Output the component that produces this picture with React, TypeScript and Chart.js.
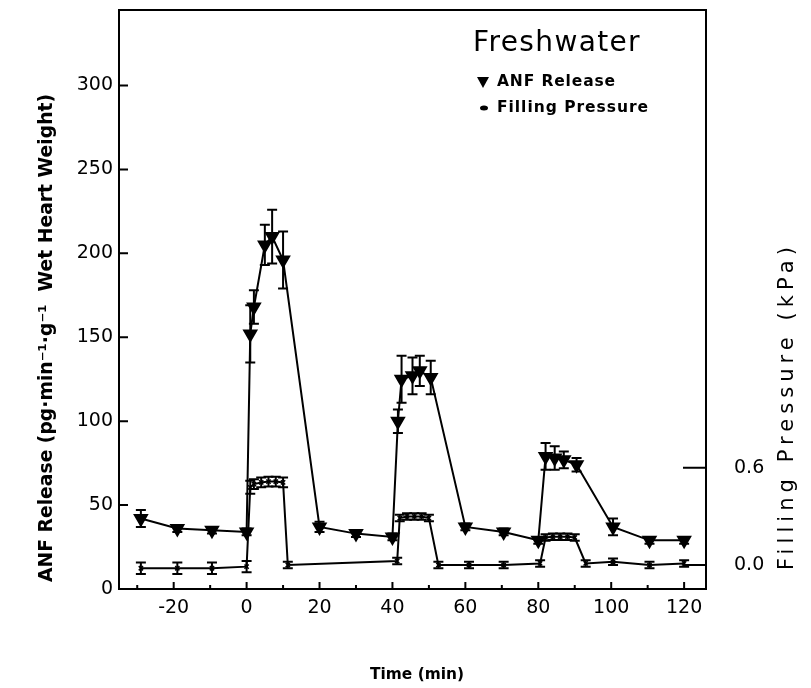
import { useEffect, useRef } from "react";
import { Chart, registerables } from "chart.js";

Chart.register(...registerables);

// ANF release (pg·min⁻¹·g⁻¹ wet heart weight)
const anfTime = [-29, -19, -9.5, 0, 1, 2, 5, 7, 10, 20, 30, 40, 41.5, 42.5, 45.5, 47.5, 50.5, 60, 70.5, 80, 82, 84.5, 87, 90.5, 100.5, 110.5, 120];
const anfValue = [42, 36, 35, 34, 152, 168, 205, 210, 196, 37, 33, 31, 100, 125, 127, 130, 126, 37, 34, 29, 79, 78, 77, 74, 37, 29, 29];
const anfError = [5, 2, 2, 2, 17, 10, 12, 16, 17, 3, 2, 2, 7, 14, 11, 9, 10, 2, 2, 2, 8, 7, 5, 4, 5, 2, 2];

// Filling pressure (kPa)
const fpTime = [-29, -19, -9.5, 0, 1, 2, 4, 6, 8, 10, 11.3, 41.3, 42, 44, 46, 48, 50, 52.6, 61, 70.5, 80.5, 82, 84, 86, 88, 90, 93, 100.5, 110.5, 120];
const fpValue = [-0.02, -0.02, -0.02, -0.01, 0.48, 0.5, 0.51, 0.515, 0.515, 0.51, 0.0, 0.025, 0.29, 0.3, 0.3, 0.3, 0.29, 0.0, 0.0, 0.0, 0.01, 0.17, 0.175, 0.175, 0.175, 0.17, 0.01, 0.02, 0.0, 0.01];
const fpError = [0.035, 0.035, 0.035, 0.035, 0.04, 0.03, 0.03, 0.03, 0.03, 0.03, 0.02, 0.02, 0.02, 0.02, 0.02, 0.02, 0.02, 0.02, 0.02, 0.02, 0.02, 0.02, 0.02, 0.02, 0.02, 0.02, 0.02, 0.02, 0.02, 0.02];

const xTicks = [-30, -20, -10, 0, 10, 20, 30, 40, 50, 60, 70, 80, 90, 100, 110, 120];
const yTicks = [0, 50, 100, 150, 200, 250, 300];
const y2Ticks = [0, 0.6];

const titleText = "Freshwater";
const anfLabel = "ANF Release";
const fpLabel = "Filling Pressure";
const xTitle = "Time (min)";
const yTitle = "ANF Release (pg·min⁻¹·g⁻¹  Wet Heart Weight)";
const y2Title = "Filling Pressure (kPa)";

const FONT = "'DejaVu Sans', sans-serif";

const errorBars = {
  id: "errorBars",
  afterDatasetsDraw(chart: any) {
    const ctx = chart.ctx;
    const sets = [
      { idx: 0, err: anfError, vals: anfValue, axis: "y", cap: 5 },
      { idx: 1, err: fpError, vals: fpValue, axis: "y2", cap: 5 },
    ];
    ctx.save();
    ctx.strokeStyle = "#000";
    ctx.lineWidth = 2;
    sets.forEach((s) => {
      const meta = chart.getDatasetMeta(s.idx);
      const sc = chart.scales[s.axis];
      meta.data.forEach((el: any, i: number) => {
        const x = el.x;
        const top = sc.getPixelForValue(s.vals[i] + s.err[i]);
        const bot = sc.getPixelForValue(s.vals[i] - s.err[i]);
        ctx.beginPath();
        ctx.moveTo(x, top);
        ctx.lineTo(x, bot);
        ctx.moveTo(x - s.cap, top);
        ctx.lineTo(x + s.cap, top);
        ctx.moveTo(x - s.cap, bot);
        ctx.lineTo(x + s.cap, bot);
        ctx.stroke();
      });
    });
    ctx.restore();
  },
};

function fitFont(ctx: any, text: string, width: number, weight: string) {
  let size = 20;
  ctx.font = `${weight} ${size}px ${FONT}`;
  const w = ctx.measureText(text).width;
  size = (size * width) / w;
  return `${weight} ${size.toFixed(2)}px ${FONT}`;
}

function spacedText(ctx: any, text: string, x: number, y: number, width: number, font: string) {
  ctx.font = font;
  ctx.letterSpacing = "0px";
  const w = ctx.measureText(text).width;
  const sp = (width - w) / Math.max(1, text.length);
  ctx.letterSpacing = `${sp.toFixed(2)}px`;
  ctx.fillText(text, x, y);
  ctx.letterSpacing = "0px";
}

const decorations = {
  id: "decorations",
  afterDraw(chart: any) {
    const ctx = chart.ctx;
    const a = chart.chartArea;
    const xs = chart.scales.x;
    const ys = chart.scales.y;
    const y2 = chart.scales.y2;
    ctx.save();
    ctx.strokeStyle = "#000";
    ctx.fillStyle = "#000";
    ctx.lineWidth = 2;
    ctx.strokeRect(a.left, a.top, a.right - a.left, a.bottom - a.top);
    // inward ticks
    ctx.beginPath();
    xs.ticks.forEach((t: any) => {
      const px = xs.getPixelForValue(t.value);
      const len = t.value % 20 === 0 ? 7 : 4;
      ctx.moveTo(px, a.bottom);
      ctx.lineTo(px, a.bottom - len);
    });
    ys.ticks.forEach((t: any) => {
      const py = ys.getPixelForValue(t.value);
      ctx.moveTo(a.left, py);
      ctx.lineTo(a.left + 9, py);
    });
    y2.ticks.forEach((t: any) => {
      const py = y2.getPixelForValue(t.value);
      ctx.moveTo(a.right, py);
      ctx.lineTo(a.right - 23, py);
    });
    ctx.stroke();

    // legend
    ctx.textBaseline = "middle";
    ctx.textAlign = "left";
    spacedText(ctx, titleText, 473, 44, 168, `400 28px ${FONT}`);
    spacedText(ctx, anfLabel, 497, 82, 119, `700 15.5px ${FONT}`);
    spacedText(ctx, fpLabel, 497, 108, 152, `700 15.5px ${FONT}`);
    ctx.beginPath();
    ctx.moveTo(477, 77);
    ctx.lineTo(489, 77);
    ctx.lineTo(483, 88);
    ctx.closePath();
    ctx.fill();
    ctx.beginPath();
    ctx.ellipse(484, 108, 4, 2.5, 0, 0, Math.PI * 2);
    ctx.fill();

    // axis titles
    ctx.textAlign = "center";
    ctx.font = fitFont(ctx, xTitle, 94, "700");
    ctx.fillText(xTitle, 417, 675);

    ctx.save();
    ctx.translate(47, 338);
    ctx.rotate(-Math.PI / 2);
    ctx.font = fitFont(ctx, yTitle, 488, "700");
    ctx.fillText(yTitle, 0, 0);
    ctx.restore();

    ctx.save();
    ctx.translate(788, 407);
    ctx.rotate(-Math.PI / 2);
    ctx.textAlign = "left";
    spacedText(ctx, y2Title, -163, 0, 328, `400 21px ${FONT}`);
    ctx.restore();

    ctx.restore();
  },
};

export default function App() {
  const ref = useRef<HTMLCanvasElement>(null);
  useEffect(() => {
    if (!ref.current) return;
    const tickFont = { family: FONT, size: 19 };
    const zeroV = (s: any) => {
      s.paddingTop = 0;
      s.paddingBottom = 0;
    };
    const chart = new Chart(ref.current, {
      type: "line",
      data: {
        datasets: [
          {
            label: anfLabel,
            data: anfTime.map((t, i) => ({ x: t, y: anfValue[i] })),
            yAxisID: "y",
            borderColor: "#000",
            backgroundColor: "#000",
            borderWidth: 2,
            pointStyle: "triangle",
            rotation: 180,
            pointRadius: 7,
            pointBackgroundColor: "#000",
            pointBorderColor: "#000",
            tension: 0,
          } as any,
          {
            label: fpLabel,
            data: fpTime.map((t, i) => ({ x: t, y: fpValue[i] })),
            yAxisID: "y2",
            borderColor: "#000",
            backgroundColor: "#000",
            borderWidth: 2,
            pointStyle: "crossRot",
            pointRadius: 3,
            pointBorderWidth: 1.5,
            pointBorderColor: "#000",
            tension: 0,
          } as any,
        ],
      },
      options: {
        responsive: false,
        animation: false,
        layout: { padding: { top: 10, left: 0, right: 0, bottom: 0 } },
        plugins: { legend: { display: false }, tooltip: { enabled: false } },
        scales: {
          x: {
            type: "linear",
            min: -35,
            max: 126,
            afterBuildTicks: (s: any) => {
              s.ticks = xTicks.map((v) => ({ value: v }));
            },
            afterFit: (s: any) => {
              s.height = 99;
              s.paddingLeft = 0;
              s.paddingRight = 0;
            },
            ticks: {
              font: tickFont,
              color: "#000",
              padding: 8,
              autoSkip: false,
              maxRotation: 0,
              callback: (v: any) => (Number(v) % 20 === 0 ? String(v) : ""),
            },
            grid: { display: false, drawTicks: false },
            border: { display: false },
          },
          y: {
            type: "linear",
            position: "left",
            min: 0,
            max: 345,
            afterBuildTicks: (s: any) => {
              s.ticks = yTicks.map((v) => ({ value: v }));
            },
            afterFit: (s: any) => {
              s.width = 119;
              zeroV(s);
            },
            ticks: { font: tickFont, color: "#000", padding: 6, callback: (v: any) => String(v) },
            grid: { display: false, drawTicks: false },
            border: { display: false },
          },
          y2: {
            type: "linear",
            position: "right",
            min: -0.148,
            max: 3.427,
            afterBuildTicks: (s: any) => {
              s.ticks = y2Ticks.map((v) => ({ value: v }));
            },
            afterFit: (s: any) => {
              s.width = 105;
              zeroV(s);
            },
            ticks: { font: tickFont, color: "#000", padding: 28, callback: (v: any) => Number(v).toFixed(1) },
            grid: { display: false, drawTicks: false },
            border: { display: false },
          },
        },
      } as any,
      plugins: [errorBars, decorations],
    });
    return () => chart.destroy();
  }, []);
  return (
    <div style={{ position: "fixed", left: 0, top: 0, width: 811, height: 688, background: "#fff" }}>
      <canvas ref={ref} width={811} height={688} />
    </div>
  );
}
